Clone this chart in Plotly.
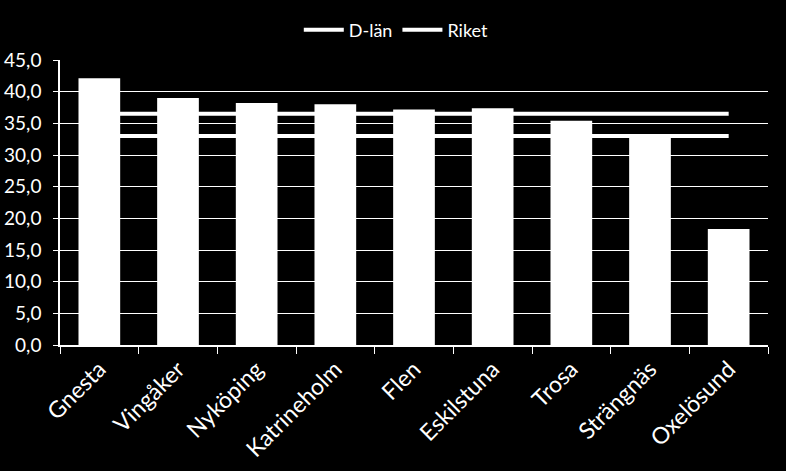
import plotly.graph_objects as go

kommuner = ["Gnesta", "Vingåker", "Nyköping", "Katrineholm", "Flen",
            "Eskilstuna", "Trosa", "Strängnäs", "Oxelösund"]
varden = [42.1, 39.0, 38.2, 38.0, 37.2, 37.4, 35.4, 32.9, 18.3]
d_lan = [36.5] * len(kommuner)
riket = [33.0] * len(kommuner)
y_ticks = [0, 5, 10, 15, 20, 25, 30, 35, 40, 45]

FONT = "Lato, 'Open Sans', sans-serif"

fig = go.Figure()
fig.add_trace(go.Bar(x=kommuner, y=varden, marker=dict(color="white", line=dict(width=0)),
                     showlegend=False, name="Andel"))
fig.add_trace(go.Scatter(x=kommuner, y=d_lan, mode="lines", name="D-län",
                         line=dict(color="white", width=4)))
fig.add_trace(go.Scatter(x=kommuner, y=riket, mode="lines", name="Riket",
                         line=dict(color="white", width=4)))

fig.update_layout(
    width=786, height=471,
    paper_bgcolor="black", plot_bgcolor="black",
    margin=dict(l=60, r=18, t=55, b=126),
    separators=", ",
    bargap=0.47,
    font=dict(family=FONT, color="white", size=18),
    legend=dict(orientation="h", x=0.475, xanchor="center",
                y=1.04, yanchor="bottom",
                font=dict(size=18, color="white"), bgcolor="rgba(0,0,0,0)",
                itemwidth=40),
    xaxis=dict(showline=True, linecolor="white", linewidth=1.5,
               ticks="outside", tickson="boundaries", ticklen=7, tickcolor="white",
               tickangle=-45, tickfont=dict(size=23, color="white"), showgrid=False,
               automargin=False),
    yaxis=dict(range=[0, 45], tickvals=y_ticks, tickformat=".1f",
               showline=True, linecolor="white", linewidth=1.5,
               ticks="outside", ticklen=5, tickcolor="white",
               showgrid=True, gridcolor="white", gridwidth=1,
               tickfont=dict(size=19, color="white"), zeroline=False,
               ticklabelstandoff=8, automargin=False),
)

fig.write_html("out.html", config={"displayModeBar": False},
               post_script="document.body.style.margin='0';document.body.style.background='black';")
